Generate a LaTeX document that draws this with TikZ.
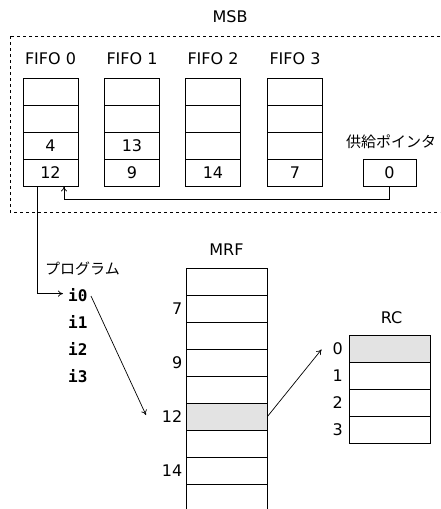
\documentclass[tikz,border=0pt]{standalone}
\usepackage{fontspec}
\setmainfont{DejaVu Sans}
\setmonofont{DejaVu Sans Mono}
\newfontfamily\jpfont{Noto Sans CJK JP}
\usetikzlibrary{arrows.meta}
\begin{document}
\begin{tikzpicture}[x=1pt,y=-1pt,
  every node/.style={font=\fontsize{16}{19}\selectfont},
  cell/.style={draw,line width=0.9pt,minimum width=55pt,minimum height=27pt,inner sep=0pt},
  wcell/.style={draw,line width=0.9pt,minimum width=81pt,minimum height=27pt,inner sep=0pt},
  hl/.style={fill=black!11},
  lbl/.style={anchor=base,inner sep=0pt},
  rlbl/.style={anchor=east,inner sep=3pt},
  conn/.style={line width=0.7pt,-{To[length=5pt,width=6pt]}},
  jp/.style={font=\jpfont\fontsize{15}{18}\selectfont},
  code/.style={font=\ttfamily\bfseries\fontsize{16}{19}\selectfont,inner sep=0pt}
]
\useasboundingbox (0,0) rectangle (440,509);
\clip (0,0) rectangle (440,509);
% MSB dashed frame
\draw[line width=0.9pt,dash pattern=on 3pt off 3pt] (10,36) rectangle (460,212);
\node[lbl] (msb) at (230,22.3) {MSB};
% FIFOs
\foreach \c/\x in {0/50.5,1/132,2/213,3/295}{
  \node[lbl] (fl\c) at (\x,64.7) {FIFO \c};
  \foreach \r/\y in {0/91.5,1/118.5,2/145.5,3/172.5}{
    \node[cell] (f\c\r) at (\x,\y) {};
  }
}
\node at (f02) {4};
\node at (f03) {12};
\node at (f12) {13};
\node at (f13) {9};
\node at (f23) {14};
\node at (f33) {7};
% supply pointer
\node[cell,minimum width=53pt] (ptr) at (389.5,172.5) {0};
\node[jp,anchor=base,inner sep=0pt] (ptrlbl) at (391,147.5) {供給ポインタ};
\draw[conn] (ptr.south) -- ++(0,13) -| ([xshift=13.5pt]f03.south);
% program
\node[jp,anchor=base west,inner sep=0pt] (prog) at (45,274) {プログラム};
\node[code,anchor=base west] (i0) at (68,301) {i0};
\node[code,anchor=base west] (i1) at (68,328) {i1};
\node[code,anchor=base west] (i2) at (68,355) {i2};
\node[code,anchor=base west] (i3) at (68,382) {i3};
\draw[conn] ([xshift=-13.5pt]f03.south) |- ([xshift=-5pt,yshift=1pt]i0.west);
% MRF
\node[lbl] (mrf) at (226.5,255) {MRF};
\foreach \r/\y in {0/281.5,1/308.5,2/335.5,3/362.5,4/389.5,5/416.5,6/443.5,7/470.5,8/497.5}{
  \node[wcell] (m\r) at (226.5,\y) {};
}
\node[wcell,hl] (m5) at (226.5,416.5) {};
\node[rlbl] (m1l) at (m1.west) {7};
\node[rlbl] (m3l) at (m3.west) {9};
\node[rlbl] (m5l) at (m5.west) {12};
\node[rlbl] (m7l) at (m7.west) {14};
\coordinate (tip1) at (146,415);
\draw[conn] (91,296) -- (tip1);
% RC
\node[lbl] (rc) at (391.5,323.5) {RC};
\node[wcell,hl] (r0) at (389.5,348.5) {};
\node[wcell] (r1) at (389.5,375.5) {};
\node[wcell] (r2) at (389.5,402.5) {};
\node[wcell] (r3) at (389.5,429.5) {};
\node[rlbl,inner sep=5.5pt] (r0l) at (r0.west) {0};
\node[rlbl,inner sep=5.5pt] (r1l) at (r1.west) {1};
\node[rlbl,inner sep=5.5pt] (r2l) at (r2.west) {2};
\node[rlbl,inner sep=5.5pt] (r3l) at (r3.west) {3};
\coordinate (tip2) at (321.5,349.5);
\draw[conn] (m5.east) -- (tip2);
\end{tikzpicture}
\end{document}
